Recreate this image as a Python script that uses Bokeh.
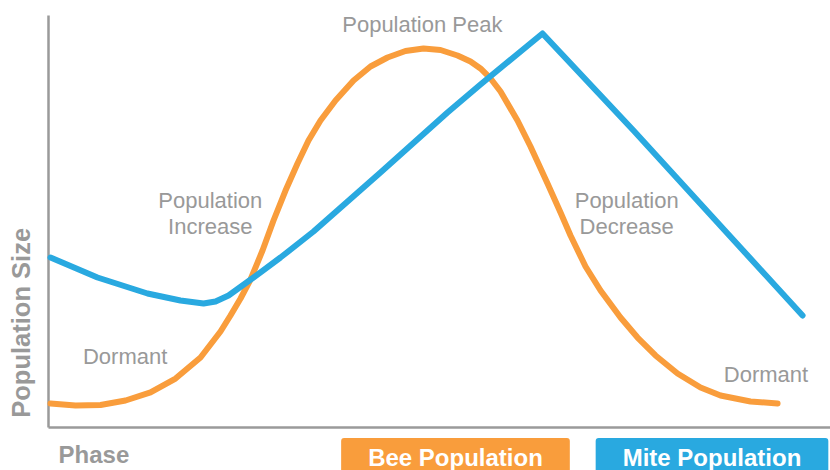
import math
from bokeh.plotting import figure
from bokeh.models import Range1d, Label
from bokeh.embed import file_html
from bokeh.resources import INLINE

# ---- data (phase 0-100, relative population size 0-100) ----
bee_phase = [0.26, 3.49, 6.72, 9.95, 13.18, 16.41, 19.64, 22.22, 23.51, 24.81,
             26.10, 27.65, 29.07, 30.62, 32.17, 33.59, 35.14, 37.08, 39.41, 41.60,
             43.80, 46.12, 48.45, 50.65, 52.84, 54.52, 55.81, 57.11, 58.40, 60.59,
             62.27, 64.47, 66.15, 67.44, 69.38, 71.32, 73.90, 76.10, 78.42, 81.27,
             84.24, 86.82, 90.70, 94.19]
bee_size = [5.83, 5.34, 5.46, 6.55, 8.50, 11.89, 16.99, 23.30, 27.18, 31.31,
            35.92, 42.96, 50.24, 57.52, 64.08, 69.66, 74.51, 79.37, 84.22, 87.62,
            89.81, 91.38, 91.99, 91.63, 90.29, 88.83, 87.14, 84.71, 81.55, 74.51,
            68.20, 59.22, 52.18, 46.60, 39.08, 33.25, 26.70, 21.84, 17.48, 13.11,
            9.71, 7.77, 6.31, 5.83]

mite_phase = [0.26, 6.33, 12.79, 17.05, 20.03, 21.58, 23.26, 26.49, 29.97, 34.24,
              42.89, 51.55, 55.81, 63.82, 75.58, 87.73, 97.42]
mite_size = [41.26, 36.41, 32.52, 30.83, 30.10, 30.58, 32.04, 36.41, 41.26, 47.57,
             61.89, 76.46, 83.25, 95.63, 72.09, 47.09, 27.18]

annotations = [
    ("Population Peak", 48.3, 97.85),
    ("Population", 20.9, 55.15),
    ("Increase", 20.9, 48.75),
    ("Population", 74.7, 55.15),
    ("Decrease", 74.7, 48.75),
    ("Dormant", 9.9, 17.25),
    ("Dormant", 92.7, 12.95),
]

series_names = ["Bee Population", "Mite Population"]
x_title = "Phase"
y_title = "Population Size"

BEE = "#F99D3C"
MITE = "#29A9E0"
GRAY = "#9A9A9A"
TEXT = "#999999"

X0, X1 = -6.202, 101.03
Y0, Y1 = -10.437, 103.64

p = figure(width=830, height=470, output_backend="svg", toolbar_location=None,
           x_axis_location=None, y_axis_location=None,
           x_range=Range1d(X0, X1), y_range=Range1d(Y0, Y1),
           min_border=0)
p.grid.visible = False
p.outline_line_color = None
p.background_fill_color = "white"
p.border_fill_color = "white"

# axis lines
p.segment(x0=[0, 0], y0=[0, 0], x1=[0, X1], y1=[100, 0], line_color=GRAY, line_width=2.5)

p.line(bee_phase, bee_size, line_color=BEE, line_width=6, line_join="round", line_cap="round")
p.line(mite_phase, mite_size, line_color=MITE, line_width=6, line_join="round", line_cap="round")

for txt, x, y in annotations:
    p.add_layout(Label(x=x, y=y, text=txt, text_align="center", text_baseline="alphabetic",
                       text_color=TEXT, text_font="Liberation Sans", text_font_size="22px"))

# axis titles
p.add_layout(Label(x=1.3, y=-6.56, text=x_title, text_align="left", text_baseline="alphabetic",
                   text_color=TEXT, text_font="Liberation Sans", text_font_style="bold",
                   text_font_size="24px"))
p.add_layout(Label(x=-3.5, y=25.4, text=y_title, angle=math.pi / 2,
                   text_align="center", text_baseline="alphabetic",
                   text_color=TEXT, text_font="Liberation Sans", text_font_style="bold",
                   text_font_size="25.5px"))

# legend boxes
for name, color, x in [(series_names[0], BEE, 52.58), (series_names[1], MITE, 85.72)]:
    p.add_layout(Label(x=x, y=-7.26, text=name, text_align="center", text_baseline="alphabetic",
                       text_color="white", text_font="Liberation Sans", text_font_style="bold",
                       text_font_size="24px", background_fill_color=color,
                       padding=(27, 6), border_radius=3))

open("out.html", "w").write(file_html(p, INLINE))
